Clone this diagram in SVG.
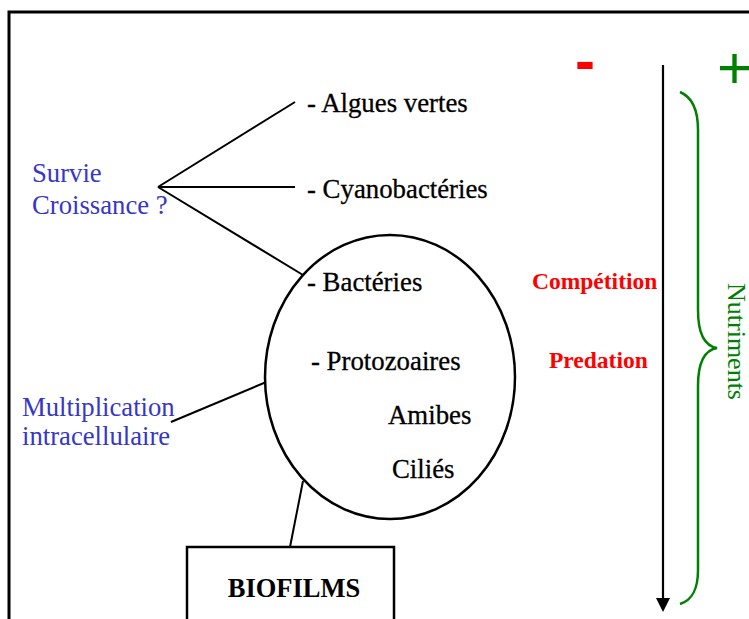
<svg xmlns="http://www.w3.org/2000/svg" width="749" height="619" viewBox="0 0 749 619">
<defs>
<style>
.t{font-family:"Liberation Serif","Times New Roman",serif;font-size:26.8px;fill:#000;stroke:#000;stroke-width:0.3}
.b{font-family:"Liberation Serif","Times New Roman",serif;font-weight:bold}
.blue{font-family:"Liberation Serif","Times New Roman",serif;font-size:26.7px;fill:#3636c8}
.red{fill:#ff0000;font-size:23.5px}
.ln{stroke:#000;stroke-width:2;fill:none}
.shape{stroke:#000;stroke-width:2.5;fill:#fff}
</style>
</defs>
<rect width="749" height="619" fill="#fff"/>
<path d="M9,619 V12 H749" fill="none" stroke="#000" stroke-width="3"/>

<g id="connectors">
<line class="ln" x1="158" y1="187" x2="295" y2="102"/>
<line class="ln" x1="158" y1="187" x2="295" y2="187"/>
<line class="ln" x1="158" y1="187" x2="303" y2="275"/>
<line class="ln" x1="171" y1="422" x2="295" y2="370"/>
<line class="ln" x1="303" y1="481" x2="290" y2="547"/>
<line x1="663" y1="65" x2="663" y2="600" stroke="#000" stroke-width="2.2"/>
<polygon points="656,598 670,598 663,612" fill="#000"/>
</g>

<g id="ellipse">
<ellipse class="shape" cx="390" cy="377" rx="125" ry="142"/>
</g>
<g id="bacteries"><text class="t" x="307" y="291">- Bactéries</text></g>
<g id="protozoaires"><text class="t" x="311" y="370">- Protozoaires</text></g>
<g id="amibes"><text class="t" x="388" y="424">Amibes</text></g>
<g id="cilies"><text class="t" x="392" y="478">Ciliés</text></g>

<g id="algues"><text class="t" x="307" y="112">- Algues vertes</text></g>
<g id="cyano"><text class="t" x="307" y="198">- Cyanobactéries</text></g>

<g id="survie"><text class="blue" x="32" y="182">Survie</text><text class="blue" x="32" y="214">Croissance ?</text></g>
<g id="multiplication"><text class="blue" x="22" y="416">Multiplication</text><text class="blue" x="22" y="445">intracellulaire</text></g>

<g id="biofilms">
<rect class="shape" x="187" y="547" width="207" height="100"/>
<text class="b" x="294" y="597" font-size="26.5" text-anchor="middle">BIOFILMS</text>
</g>

<g id="competition"><text class="b red" x="532" y="289">Compétition</text></g>
<g id="predation"><text class="b red" x="549" y="368">Predation</text></g>

<g id="minus"><text x="575" y="81" font-family="Liberation Sans, Arial, sans-serif" font-weight="bold" font-size="60" fill="#ff0000">-</text></g>
<g id="plus"><text x="717" y="88" font-family="Liberation Sans, Arial, sans-serif" font-size="60" fill="#008000">+</text></g>

<g id="brace">
<path d="M680,92 C692,97 698,110 698,130 L698,310 C698,335 705,346 717,348 C705,350 698,361 698,386 L698,570 C698,590 692,600 680,604" fill="none" stroke="#008000" stroke-width="2.5"/>
</g>
<g id="nutriments"><text transform="translate(728,283) rotate(90)" font-family="Liberation Serif, Times New Roman, serif" font-size="26" fill="#008000">Nutriments</text></g>
</svg>
